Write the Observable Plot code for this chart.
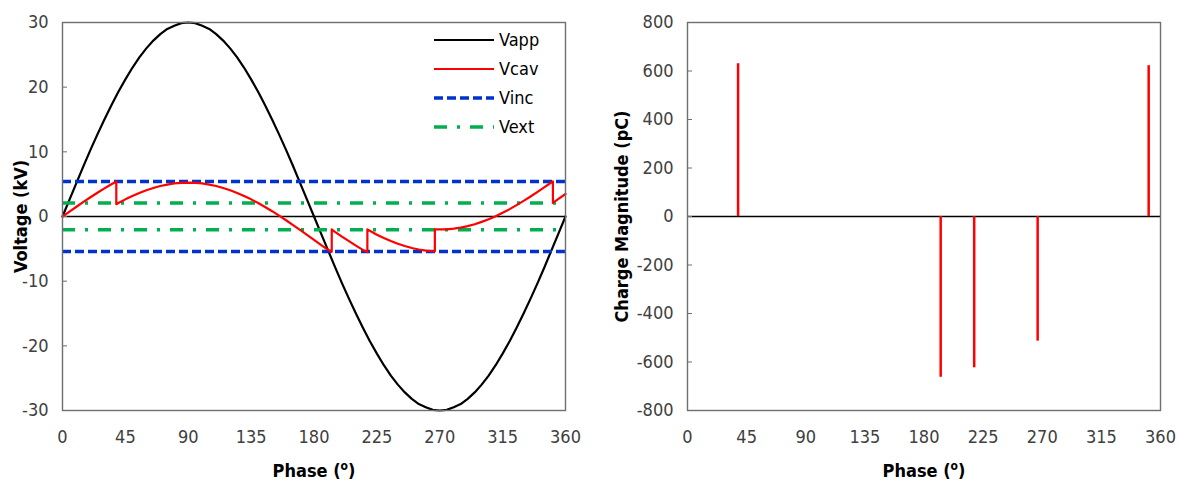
<!DOCTYPE html>
<html>
<head>
<meta charset="utf-8">
<script src="https://cdn.jsdelivr.net/npm/d3@7"></script>
<script src="https://cdn.jsdelivr.net/npm/@observablehq/plot@0.6"></script>
<style>
  html, body { margin: 0; padding: 0; background: #fff; }
  #wrap { position: relative; width: 1181px; height: 485px; overflow: hidden; }
  #left, #right { position: absolute; top: 0; }
  #left { left: 0; }
  #right { left: 600px; }
  #legend { position: absolute; left: 0; top: 0; pointer-events: none; }
  svg text { font-family: "Liberation Sans Narrow", "DejaVu Sans Condensed", "Arial Narrow", sans-serif; }
</style>
</head>
<body>
<div id="wrap">
  <div id="left"></div>
  <div id="right"></div>
  <svg id="legend" width="600" height="485"></svg>
</div>
<script>
// ---------- data ----------
const xTicks = [0, 45, 90, 135, 180, 225, 270, 315, 360];
const vTicks = [-30, -20, -10, 0, 10, 20, 30];
const qTicks = [-800, -600, -400, -200, 0, 200, 400, 600, 800];

const appPhase = [0,5,10,15,20,25,30,35,40,45,50,55,60,65,70,75,80,85,90,95,100,105,110,115,120,125,130,135,140,145,150,155,160,165,170,175,180,185,190,195,200,205,210,215,220,225,230,235,240,245,250,255,260,265,270,275,280,285,290,295,300,305,310,315,320,325,330,335,340,345,350,355,360];
const vApp = [0,2.6,5.2,7.8,10.3,12.7,15.0,17.2,19.3,21.2,23.0,24.6,26.0,27.2,28.2,29.0,29.5,29.9,30.0,29.9,29.5,29.0,28.2,27.2,26.0,24.6,23.0,21.2,19.3,17.2,15.0,12.7,10.3,7.8,5.2,2.6,0,-2.6,-5.2,-7.8,-10.3,-12.7,-15.0,-17.2,-19.3,-21.2,-23.0,-24.6,-26.0,-27.2,-28.2,-29.0,-29.5,-29.9,-30.0,-29.9,-29.5,-29.0,-28.2,-27.2,-26.0,-24.6,-23.0,-21.2,-19.3,-17.2,-15.0,-12.7,-10.3,-7.8,-5.2,-2.6,0];

const cavPhase = [0,5,10,15,20,25,30,35,38.5,38.5,40,45,50,55,60,65,70,75,80,85,90,95,100,105,110,115,120,125,130,135,140,145,150,155,160,165,170,175,180,185,190,192.7,192.7,195,200,205,210,215,218.2,218.2,220,225,230,235,240,245,250,255,260,265,266.5,266.5,270,275,280,285,290,295,300,305,310,315,320,325,330,335,340,345,350,351,351,355,360];
const vCav = [0,0.76,1.51,2.25,2.98,3.68,4.35,4.99,5.42,1.9,2.08,2.65,3.17,3.64,4.05,4.41,4.71,4.94,5.11,5.21,5.24,5.21,5.11,4.94,4.71,4.41,4.05,3.64,3.17,2.65,2.08,1.47,0.82,0.13,-0.58,-1.32,-2.07,-2.84,-3.61,-4.38,-5.15,-5.45,-2.0,-2.38,-3.11,-3.82,-4.51,-5.16,-5.5,-2.0,-2.2,-2.81,-3.33,-3.80,-4.22,-4.57,-4.87,-5.10,-5.27,-5.37,-5.38,-2.0,-2.0,-1.98,-1.88,-1.72,-1.48,-1.19,-0.83,-0.42,0.05,0.57,1.14,1.76,2.41,3.09,3.81,4.54,5.30,5.42,2.1,2.71,3.48];

const vInc = [5.4, -5.4];
const vExt = [2.1, -2.05];

const pdPhase = [38.5, 192.7, 218.2, 266.5, 351];
const pdCharge = [630, -663, -624, -514, 622];

const seriesNames = ["Vapp", "Vcav", "Vinc", "Vext"];
const seriesColors = ["#000000", "#ff0000", "#0033cc", "#00b050"];

// ---------- tables ----------
const appData = appPhase.map((p, i) => ({phase: p, v: vApp[i]}));
const cavData = cavPhase.map((p, i) => ({phase: p, v: vCav[i]}));
const pdData = pdPhase.map((p, i) => ({phase: p, q: pdCharge[i]}));

const FONT = '"Liberation Sans Narrow", "DejaVu Sans Condensed", "Arial Narrow", sans-serif';
const frameColor = "#6f6f6f";
const tickColor = "#404040";
const fmt = d => String(d);

function commonStyle() {
  return {fontFamily: FONT, fontSize: "18px", color: tickColor, background: "white", overflow: "visible"};
}

const left = Plot.plot({
  width: 600, height: 485,
  marginLeft: 62, marginRight: 35, marginTop: 22, marginBottom: 75,
  style: commonStyle(),
  x: {domain: [0, 360]},
  y: {domain: [-30, 30]},
  marks: [
    Plot.ruleY([0], {stroke: "#000", strokeWidth: 1.5}),
    Plot.line(appData, {x: "phase", y: "v", stroke: seriesColors[0], strokeWidth: 2.2}),
    Plot.ruleY(vInc, {stroke: seriesColors[2], strokeWidth: 3.5, strokeDasharray: "9,4"}),
    Plot.ruleY(vExt, {stroke: seriesColors[3], strokeWidth: 3.5, strokeDasharray: "13,10,3,10"}),
    Plot.line(cavData, {x: "phase", y: "v", stroke: seriesColors[1], strokeWidth: 2.2}),
    Plot.frame({stroke: frameColor, strokeWidth: 1.4}),
    Plot.axisY(vTicks, {anchor: "left", tickSize: -5, tickPadding: 19, stroke: frameColor, tickFormat: fmt, label: "Voltage (kV)", labelAnchor: "center", labelOffset: 48}),
    Plot.axisX(xTicks, {anchor: "bottom", tickSize: 0, tickPadding: 20, tickFormat: fmt, label: "Phase (o)", labelAnchor: "center", labelOffset: 66})
  ]
});

const right = Plot.plot({
  width: 581, height: 485,
  marginLeft: 87, marginRight: 21, marginTop: 22, marginBottom: 75,
  style: commonStyle(),
  x: {domain: [0, 360]},
  y: {domain: [-800, 800]},
  marks: [
    Plot.ruleY([0], {stroke: "#000", strokeWidth: 1.5}),
    Plot.ruleX(pdData, {x: "phase", y1: 0, y2: "q", stroke: "#ff0000", strokeWidth: 2.5}),
    Plot.frame({stroke: frameColor, strokeWidth: 1.4}),
    Plot.axisY(qTicks, {anchor: "left", tickSize: -5, tickPadding: 19, stroke: frameColor, tickFormat: fmt, label: "Charge Magnitude (pC)", labelAnchor: "center", labelOffset: 72}),
    Plot.axisX(xTicks, {anchor: "bottom", tickSize: 0, tickPadding: 20, tickFormat: fmt, label: "Phase (o)", labelAnchor: "center", labelOffset: 66})
  ]
});

document.getElementById("left").appendChild(left);
document.getElementById("right").appendChild(right);

// style axis titles: bold black, no arrows, superscript degree "o"
const yTitles = ["Voltage (kV)", "Charge Magnitude (pC)"];
[left, right].forEach((svg, k) => {
  svg.querySelectorAll('[aria-label="y-axis label"] text, [aria-label="x-axis label"] text').forEach(t => {
    t.style.fontWeight = "bold";
    t.style.fontSize = "18px";
    t.setAttribute("fill", "#000");
  });
  svg.querySelectorAll('[aria-label="y-axis label"] text').forEach(t => { t.textContent = yTitles[k]; });
  svg.querySelectorAll('[aria-label="x-axis label"] text').forEach(t => {
    const ns = "http://www.w3.org/2000/svg";
    t.textContent = "";
    const a = document.createElementNS(ns, "tspan"); a.textContent = "Phase (";
    const b = document.createElementNS(ns, "tspan"); b.textContent = "o"; b.setAttribute("dy", "-7"); b.setAttribute("font-size", "12px");
    const c = document.createElementNS(ns, "tspan"); c.textContent = ")"; c.setAttribute("dy", "7");
    t.append(a, b, c);
  });
});

// legend (inside left panel, top-right)
const legend = d3.select("#legend");
const dashes = [null, null, "9,4", "13,10,3,10"];
const widths = [2.2, 2.2, 3.5, 3.5];
seriesNames.forEach((name, i) => {
  const y = 40 + i * 29;
  legend.append("line").attr("x1", 434).attr("x2", 494).attr("y1", y).attr("y2", y)
    .attr("stroke", seriesColors[i]).attr("stroke-width", widths[i])
    .attr("stroke-dasharray", dashes[i]);
  legend.append("text").attr("x", 499).attr("y", y).attr("dy", "0.35em")
    .attr("font-size", "18px").attr("fill", "#000").text(name);
});
</script>
</body>
</html>
